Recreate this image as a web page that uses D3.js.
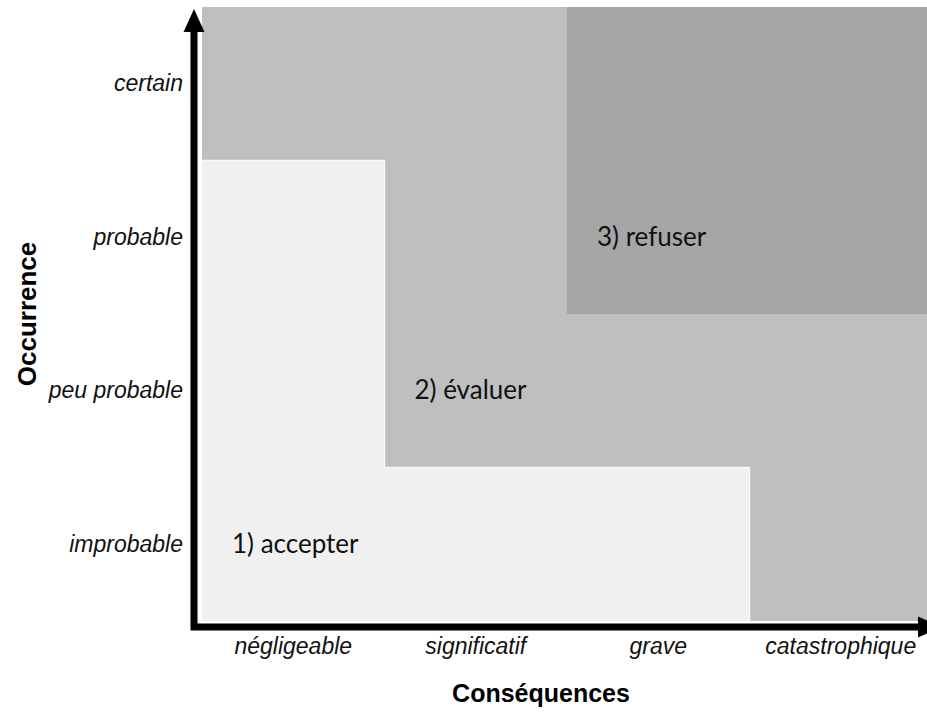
<!DOCTYPE html>
<html>
<head>
<meta charset="utf-8">
<script src="https://cdn.jsdelivr.net/npm/d3@7"></script>
<style>
  body { margin: 0; background: #fff; }
</style>
</head>
<body>
<script>
// categories on each axis
const consequences = ["négligeable", "significatif", "grave", "catastrophique"];
const occurrences = ["improbable", "peu probable", "probable", "certain"]; // bottom -> top

// zone for each cell, one row per occurrence (bottom first), one entry per consequence
const zoneNames = ["1) accepter", "2) évaluer", "3) refuser"];
const zoneGrid = [
    [0, 0, 0, 1],
    [0, 1, 1, 1],
    [0, 1, 2, 2],
    [1, 1, 2, 2],
];
// cell (consequence, occurrence) holding each zone label
const zoneLabelCells = [
    ["négligeable", "improbable"],
    ["significatif", "peu probable"],
    ["grave", "probable"],
];

const width = 927;
const height = 713;
const zoneColours = ["#f0f0f0", "#bfbfbf", "#a6a6a6"];

const plot = { left: 202, right: 932, top: 7, bottom: 621 };

const x = d3.scaleBand(consequences, [plot.left, plot.right]);
const y = d3.scaleBand(occurrences, [plot.bottom, plot.top]);

const svg = d3.select("body").append("svg")
    .attr("width", width)
    .attr("height", height);

// flatten the grid into cells
const cells = [];
zoneGrid.forEach((row, ri) => {
    row.forEach((zone, ci) => {
        cells.push({ col: ci, row: ri, zone });
    });
});

svg.append("g")
    .attr("shape-rendering", "crispEdges")
    .selectAll("rect")
    .data(cells)
    .join("rect")
    .attr("x", d => x(consequences[d.col]))
    .attr("y", d => y(occurrences[d.row]))
    .attr("width", x.bandwidth())
    .attr("height", y.bandwidth())
    .attr("fill", d => zoneColours[d.zone]);

// thin white edge where the "accept" zone meets another zone
const edges = [];
cells.filter(d => d.zone === 0).forEach(d => {
    const x0 = x(consequences[d.col]), x1 = x0 + x.bandwidth();
    const y0 = y(occurrences[d.row]), y1 = y0 + y.bandwidth();
    const other = (c, r) => zoneGrid[r] && zoneGrid[r][c] !== undefined && zoneGrid[r][c] !== 0;
    if (other(d.col + 1, d.row)) edges.push([x1, y0, x1, y1]);
    if (other(d.col, d.row + 1)) edges.push([x0, y0, x1, y0]);
});

svg.append("g")
    .selectAll("line")
    .data(edges)
    .join("line")
    .attr("x1", d => d[0]).attr("y1", d => d[1])
    .attr("x2", d => d[2]).attr("y2", d => d[3])
    .attr("stroke", "#fafafa")
    .attr("stroke-width", 1.5);

// zone labels
svg.append("g")
    .selectAll("text")
    .data(zoneLabelCells)
    .join("text")
    .attr("x", d => x(d[0]) + 30)
    .attr("y", d => y(d[1]) + y.bandwidth() / 2)
    .attr("dy", "0.32em")
    .attr("font-family", "Lato, 'Open Sans', sans-serif")
    .attr("font-size", 26)
    .attr("fill", "#111")
    .text((d, i) => zoneNames[i]);

// axis lines with arrowheads
const axisX = plot.left - 8;
const axisY = plot.bottom + 6;
const arrowLen = 23, arrowHalf = 10.5;
const yTip = 9;
const xTip = width + 14;

svg.append("path")
    .attr("d", `M${axisX},${yTip + arrowLen} V${axisY} H${xTip - arrowLen}`)
    .attr("fill", "none")
    .attr("stroke", "#000")
    .attr("stroke-width", 7)
    .attr("stroke-linejoin", "miter")
    .attr("stroke-linecap", "butt");

svg.append("path")
    .attr("d", `M${axisX},${yTip} L${axisX - arrowHalf},${yTip + arrowLen} L${axisX + arrowHalf},${yTip + arrowLen}Z`)
    .attr("fill", "#000");

svg.append("path")
    .attr("d", `M${xTip},${axisY} L${xTip - arrowLen},${axisY - arrowHalf} L${xTip - arrowLen},${axisY + arrowHalf}Z`)
    .attr("fill", "#000");

// tick labels
const xAxis = svg.append("g")
    .attr("transform", `translate(0,${axisY})`)
    .call(d3.axisBottom(x).tickSize(0).tickPadding(11));
xAxis.select(".domain").remove();

const yAxis = svg.append("g")
    .attr("transform", `translate(${axisX},0)`)
    .call(d3.axisLeft(y).tickSize(0).tickPadding(11));
yAxis.select(".domain").remove();

svg.selectAll(".tick text")
    .attr("font-family", "'Liberation Sans', Arial, sans-serif")
    .attr("font-style", "italic")
    .attr("font-size", 23)
    .attr("fill", "#111");

// axis titles
svg.append("text")
    .attr("x", 541)
    .attr("y", 702)
    .attr("text-anchor", "middle")
    .attr("font-family", "'Liberation Sans', Arial, sans-serif")
    .attr("font-weight", "bold")
    .attr("font-size", 25)
    .text("Conséquences");

svg.append("text")
    .attr("transform", `translate(36,${(plot.top + plot.bottom) / 2}) rotate(-90)`)
    .attr("text-anchor", "middle")
    .attr("font-family", "'Liberation Sans', Arial, sans-serif")
    .attr("font-weight", "bold")
    .attr("font-size", 26)
    .text("Occurrence");
</script>
</body>
</html>
